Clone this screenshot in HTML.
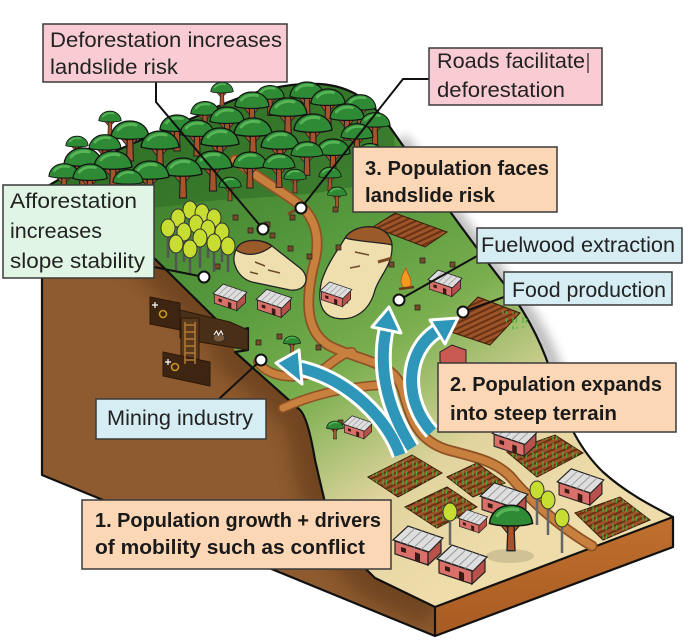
<!DOCTYPE html>
<html><head><meta charset="utf-8"><style>html,body{margin:0;padding:0;background:#fff}svg{display:block}</style></head>
<body>
<svg width="700" height="643" viewBox="0 0 700 643" xmlns="http://www.w3.org/2000/svg">
<defs>
<linearGradient id="gG" gradientUnits="userSpaceOnUse" x1="200" y1="120" x2="480" y2="560"><stop offset="0" stop-color="#3a7b2b"/><stop offset="0.35" stop-color="#5a9c3f"/><stop offset="0.55" stop-color="#7aae4e"/><stop offset="0.68" stop-color="#adc277"/><stop offset="0.8" stop-color="#e2d49e"/><stop offset="1" stop-color="#eedcab"/></linearGradient>
<linearGradient id="fr" x1="0" y1="0" x2="0" y2="1"><stop offset="0" stop-color="#c0702e"/><stop offset="1" stop-color="#a85b22"/></linearGradient>
<filter id="bl" x="-20%" y="-20%" width="140%" height="140%"><feGaussianBlur stdDeviation="9"/></filter>
<filter id="bl2" x="-20%" y="-20%" width="140%" height="140%"><feGaussianBlur stdDeviation="5"/></filter>
<clipPath id="lf"><path d="M42,190 L153,257 L230,333 L235,352 L300,410 C305,415 310,430 315,460 L322,490 C328,520 345,550 375,578 L435,607 L435,636 L42,475 Z"/></clipPath>
<pattern id="fs" width="6" height="5" patternUnits="userSpaceOnUse" patternTransform="rotate(-25)"><rect width="6" height="5" fill="#9c5428"/><rect width="6" height="2" fill="#6a3214"/></pattern>
<pattern id="sp" width="10" height="9" patternUnits="userSpaceOnUse"><path d="M3,8 L3,2 M6,8 L7,3" stroke="#4fae3d" stroke-width="1.2"/></pattern>
<symbol id="tr" viewBox="0 0 40 44" overflow="visible"><path d="M20,28 L11,17 M20,26 L29,16" stroke="#222" stroke-width="4" fill="none"/><path d="M20,28 L11,17 M20,26 L29,16" stroke="#a9532c" stroke-width="2.2" fill="none"/><path d="M17.5,16 L16.5,42 L23.5,42 L22.5,16 Z" fill="#a9532c" stroke="#222" stroke-width="1.2"/><path d="M1,18 C2,8 10,2 20,2 C30,2 38,8 39,18 C30,21 10,21 1,18 Z" fill="#2e8a34" stroke="#111" stroke-width="1.3"/><path d="M8,11 C12,6 19,4.5 26,6" stroke="#57b558" stroke-width="3" fill="none" stroke-linecap="round"/></symbol>
<symbol id="hs" viewBox="0 0 50 44" overflow="visible"><polygon points="2,18 35,29 35,42 2,31" fill="#d9716a" stroke="#222" stroke-width="1.2"/><polygon points="35,29 48,17 48,30 35,42" fill="#b9514b" stroke="#222" stroke-width="1.2"/><polygon points="22,29 27,31 27,40 22,38" fill="#3a1a14"/><polygon points="8,24 13,25.5 13,30 8,28.5" fill="#3a1a14"/><polygon points="0,17 15,3 50,15 36,29" fill="#dedede" stroke="#222" stroke-width="1.2"/><path d="M7,19.4 L22,5.4 M14,21.8 L29,7.8 M21,24.2 L36,10.2 M28,26.6 L43,12.6" stroke="#999" stroke-width="1"/></symbol>
</defs>
<rect width="700" height="643" fill="#fff"/>
<path d="M392,135 C420,175 470,245 505,290 C530,322 545,355 555,390" stroke="#000" stroke-width="16" fill="none" opacity="0.25" filter="url(#bl2)" transform="translate(8,4)"/>
<path d="M42,190 L153,257 L230,333 L235,352 L300,410 C305,415 310,430 315,460 L322,490 C328,520 345,550 375,578 L435,607 L435,636 L42,475 Z" fill="#8e5a2f"/>
<path d="M42,190 L153,257 L230,333 L235,352 L300,410 C305,415 310,430 315,460 L322,490 C328,520 345,550 375,578 L435,607" stroke="#5a3416" stroke-width="44" fill="none" opacity="0.55" filter="url(#bl)" clip-path="url(#lf)"/>
<polygon points="435,607 673,517 673,547 435,636" fill="url(#fr)"/>
<path d="M45,188 C80,165 140,140 200,115 C240,95 280,82 320,84 C350,86 372,100 392,130 C420,170 470,240 505,285 C530,318 545,350 555,385 C565,420 580,450 603,472 C625,492 650,505 673,517 L435,607 L375,578 C345,550 328,520 322,490 L315,460 C310,430 305,415 300,410 L235,352 L230,333 L153,257 Z" fill="url(#gG)"/>
<path d="M45,188 C80,165 140,140 200,115 C240,95 280,82 320,84 C350,86 372,100 392,130 C400,150 390,175 360,185 C300,200 240,195 180,205 C130,212 90,205 45,188 Z" fill="#2f6e26" opacity="0.6"/>
<path d="M45,188 C80,165 140,140 200,115 C240,95 280,82 320,84 C350,86 372,100 392,130 C420,170 470,240 505,285 C530,318 545,350 555,385 C565,420 580,450 603,472 C625,492 650,505 673,517" stroke="#111" stroke-width="2.2" fill="none"/>
<path d="M42,190 L153,257 L230,333 L248,328 L248,350 L235,352 L300,410 C305,415 310,430 315,460 L322,490 C328,520 345,550 375,578 L435,607 L673,517 L673,547 L435,636 L42,475 Z M435,607 L435,636" stroke="#111" stroke-width="2.2" fill="none" stroke-linejoin="round"/>
<g stroke="#2a180a" stroke-width="1"><polygon points="150,297 180,303 180,330 150,324" fill="#3e2511"/><polygon points="180,310 230,322 248,330 248,350 200,342 180,338" fill="#4a2f18"/><rect x="181" y="318" width="18" height="50" fill="#5a381c"/><polygon points="163,352 210,362 210,386 163,376" fill="#3e2511"/></g>
<path d="M185,325 H195 M185,332 H195 M185,339 H195 M185,346 H195 M185,353 H195 M185,360 H195 M185,322 V364 M195,322 V364" stroke="#b07a36" stroke-width="1.5"/>
<circle cx="163" cy="314" r="3.5" fill="none" stroke="#c8961a" stroke-width="1.6"/><circle cx="175" cy="367" r="3.5" fill="none" stroke="#c8961a" stroke-width="1.6"/>
<path d="M155,302 l0,6 M152,305 l6,0 M168,359 l0,6 M165,362 l6,0" stroke="#fff" stroke-width="1.2"/>
<ellipse cx="219" cy="338" rx="6" ry="4" fill="#7a5a3a" stroke="#222" stroke-width="0.8"/><path d="M214,335 l2.5,-4 l2,4 l2.5,-4 l2,4" stroke="#fff" stroke-width="1.1" fill="none"/>
<g fill="none" stroke-linecap="round" stroke="#8e5226" stroke-width="11"><path id="rd1" d="M235,160 C260,180 290,195 305,210 C318,225 320,245 313,268 C306,300 305,330 328,345 C355,360 392,360 402,388 C410,415 415,440 448,450 C478,458 500,462 515,482 C540,510 565,530 592,546"/><path d="M258,362 C268,378 300,382 325,368 C335,360 345,352 352,352 M283,408 C305,398 335,388 380,385" stroke-width="10"/></g>
<g fill="none" stroke-linecap="round" stroke="#c8803f" stroke-width="7.5"><path d="M235,160 C260,180 290,195 305,210 C318,225 320,245 313,268 C306,300 305,330 328,345 C355,360 392,360 402,388 C410,415 415,440 448,450 C478,458 500,462 515,482 C540,510 565,530 592,546"/><path d="M258,362 C268,378 300,382 325,368 C335,360 345,352 352,352 M283,408 C305,398 335,388 380,385" stroke-width="7"/></g>
<path d="M373,227 L395,213 L447,232 L425,247 Z M445,330 L478,297 L520,313 L490,345 Z M368,477 L412,455 L442,473 L398,497 Z M447,477 L477,463 L505,483 L473,497 Z M405,507 L447,487 L477,507 L437,528 Z M507,452 L555,435 L583,453 L537,477 Z M575,513 L620,497 L650,520 L603,540 Z" fill="url(#fs)" stroke="#3a1d0c" stroke-width="1"/>
<path d="M368,477 L412,455 L442,473 L398,497 Z M447,477 L477,463 L505,483 L473,497 Z M405,507 L447,487 L477,507 L437,528 Z M507,452 L555,435 L583,453 L537,477 Z M575,513 L620,497 L650,520 L603,540 Z M500,310 L520,313 L535,325 L510,330 Z" fill="url(#sp)"/>
<g stroke="#222" stroke-width="1.3"><path d="M236,250 C240,238 262,238 272,246 L300,268 C312,278 305,292 290,290 L252,282 C238,278 230,262 236,250 Z" fill="#f0dfae"/><path d="M236,250 C240,238 262,238 272,246 C262,254 248,258 236,250 Z" fill="#9a5a2a"/><path d="M345,238 C355,222 390,222 392,245 C393,265 380,275 375,290 C370,310 355,322 335,318 C318,314 318,295 322,280 C328,262 338,250 345,238 Z" fill="#f0dfae"/><path d="M345,238 C355,222 390,222 392,245 C380,242 360,242 345,238 Z" fill="#9a5a2a"/></g>
<path d="M255,262 l10,4 M268,270 l12,3 M250,272 l8,2 M355,252 l14,3 M350,268 l10,-2 M340,300 l8,3" stroke="#6a4a2a" stroke-width="1.5"/>
<path d="M270,233h5v5h-5z M288,246h5v5h-5z M333,207h5v5h-5z M233,215h5v5h-5z M265,222h5v5h-5z M336,245h5v5h-5z M256,340h5v5h-5z M277,334h5v5h-5z M316,345h5v5h-5z M353,202h5v5h-5z M415,305h5v5h-5z M450,262h5v5h-5z M389,262h5v5h-5z M338,420h5v5h-5z M363,428h5v5h-5z M215,264h5v5h-5z M290,215h5v5h-5z M420,258h5v5h-5z M248,228h5v5h-5z M307,254h5v5h-5z" fill="#7a4a25" stroke="#222" stroke-width="0.7"/>
<path d="M288,214 L305,205 M378,262 L392,258" stroke="#7a4a25" stroke-width="3"/>
<path d="M404,288 C398,282 402,275 406,268 C408,276 413,279 410,288 Z" fill="#f39b1e" stroke="#c0501a" stroke-width="0.8"/><path d="M399,289 L414,287" stroke="#6a3a1a" stroke-width="2.5"/>
<path d="M190,215 V238 M202,218 V242 M214,223 V246 M178,223 V246 M196,229 V252 M208,234 V258 M222,237 V262 M168,233 V258 M184,237 V262 M200,243 V268 M214,248 V272 M228,251 V272 M176,249 V272 M190,254 V275" stroke="#555" stroke-width="2.5"/>
<g fill="#c8dd32" stroke="#333" stroke-width="1"><ellipse cx="190" cy="210" rx="7" ry="9"/><ellipse cx="202" cy="213" rx="7" ry="9"/><ellipse cx="214" cy="218" rx="7" ry="9"/><ellipse cx="178" cy="218" rx="7" ry="9"/><ellipse cx="196" cy="224" rx="7" ry="9"/><ellipse cx="208" cy="229" rx="7" ry="9"/><ellipse cx="222" cy="232" rx="7" ry="9"/><ellipse cx="168" cy="228" rx="7" ry="9"/><ellipse cx="184" cy="232" rx="7" ry="9"/><ellipse cx="200" cy="238" rx="7" ry="9"/><ellipse cx="214" cy="243" rx="7" ry="9"/><ellipse cx="228" cy="246" rx="7" ry="9"/><ellipse cx="176" cy="244" rx="7" ry="9"/><ellipse cx="190" cy="249" rx="7" ry="9"/></g>
<g><use href="#tr" x="210" y="81" width="24" height="26"/><use href="#tr" x="289" y="80" width="36" height="40"/><use href="#tr" x="255" y="84" width="30" height="33"/><use href="#tr" x="310" y="87" width="36" height="40"/><use href="#tr" x="234" y="90" width="36" height="40"/><use href="#tr" x="343" y="93" width="34" height="37"/><use href="#tr" x="268" y="96" width="40" height="44"/><use href="#tr" x="190" y="100" width="30" height="33"/></g>
<g><use href="#tr" x="329" y="102" width="36" height="40"/><use href="#tr" x="98" y="110" width="24" height="26"/><use href="#tr" x="209" y="105" width="36" height="40"/><use href="#tr" x="359" y="111" width="32" height="35"/><use href="#tr" x="159" y="113" width="36" height="40"/><use href="#tr" x="293" y="112" width="40" height="44"/><use href="#tr" x="233" y="116" width="40" height="44"/><use href="#tr" x="179" y="118" width="36" height="40"/></g>
<g><use href="#tr" x="110" y="119" width="40" height="44"/><use href="#tr" x="340" y="122" width="34" height="37"/><use href="#tr" x="200" y="126" width="40" height="44"/><use href="#tr" x="260" y="129" width="40" height="44"/><use href="#tr" x="65" y="135" width="24" height="26"/><use href="#tr" x="140" y="129" width="40" height="44"/><use href="#tr" x="88" y="133" width="34" height="37"/><use href="#tr" x="315" y="137" width="36" height="40"/></g>
<g><use href="#tr" x="290" y="140" width="34" height="37"/><use href="#tr" x="356" y="142" width="28" height="31"/><use href="#tr" x="63" y="146" width="40" height="44"/><use href="#tr" x="93" y="149" width="40" height="44"/><use href="#tr" x="193" y="149" width="40" height="44"/><use href="#tr" x="232" y="150" width="36" height="40"/><use href="#tr" x="262" y="152" width="34" height="37"/><use href="#tr" x="163" y="156" width="40" height="44"/></g>
<g><use href="#tr" x="130" y="159" width="40" height="44"/><use href="#tr" x="48" y="162" width="32" height="35"/><use href="#tr" x="72" y="162" width="36" height="40"/><use href="#tr" x="112" y="168" width="32" height="35"/><use href="#tr" x="318" y="166" width="24" height="26"/><use href="#tr" x="283" y="168" width="24" height="26"/><use href="#tr" x="218" y="176" width="24" height="26"/><use href="#tr" x="327" y="186" width="20" height="22"/><use href="#tr" x="283" y="335" width="18" height="20"/><use href="#tr" x="326" y="420" width="18" height="20"/></g>
<g><use href="#hs" x="213" y="282" width="34" height="30"/><use href="#hs" x="256" y="287" width="36" height="32"/><use href="#hs" x="320" y="280" width="32" height="28"/><use href="#hs" x="428" y="268" width="34" height="30"/><use href="#hs" x="343" y="414" width="30" height="26"/></g>
<polygon points="440,352 452,345 466,350 466,364 452,368 440,362" fill="#c85a52" stroke="#222" stroke-width="1"/>
<g><use href="#hs" x="492" y="418" width="46" height="40"/><use href="#hs" x="480" y="480" width="48" height="42"/><use href="#hs" x="557" y="466" width="47" height="41"/><use href="#hs" x="458" y="508" width="30" height="26"/><use href="#hs" x="393" y="523" width="50" height="44"/><use href="#hs" x="437" y="542" width="50" height="44"/></g>
<ellipse cx="510" cy="556" rx="24" ry="7" fill="#000" opacity="0.12"/>
<use href="#tr" x="488" y="503" width="46" height="50"/>
<path d="M450,515 V545 M537,493 V525 M548,503 V535 M562,521 V553" stroke="#666" stroke-width="2.5"/>
<g fill="#c8dd32" stroke="#333" stroke-width="1"><ellipse cx="450" cy="512" rx="7" ry="9"/><ellipse cx="537" cy="490" rx="7" ry="9"/><ellipse cx="548" cy="500" rx="7" ry="9"/><ellipse cx="562" cy="518" rx="7" ry="9"/></g>
<path d="M400,455 C388,420 350,380 300,368 M412,448 C388,410 378,370 386,330 M432,432 C404,402 404,352 437,331" stroke="#fff" stroke-width="17" fill="none"/>
<path d="M400,455 C388,420 350,380 300,368 M412,448 C388,410 378,370 386,330 M432,432 C404,402 404,352 437,331" stroke="#2e96b8" stroke-width="11" fill="none"/>
<path d="M276,363 L299,350 L302,384 Z M389,307 L372,327 L401,333 Z M458,318 L430,320 L445,344 Z" fill="#2e96b8" stroke="#fff" stroke-width="3" stroke-linejoin="round"/>
<path d="M156,82 V102 L263,229 M429,79 H403 L301,208 M477,256 L399,300 M504,297 L463,312 M154,267 L204,277 M219,399 L261,360" stroke="#111" stroke-width="2" fill="none"/>
<g fill="#fff" stroke="#111" stroke-width="2"><circle cx="263" cy="229" r="5.5"/><circle cx="301" cy="208" r="5.5"/><circle cx="399" cy="300" r="5.5"/><circle cx="463" cy="312" r="5.5"/><circle cx="204" cy="277" r="5.5"/><circle cx="261" cy="360" r="5.5"/></g>
<g stroke="#3a3a3a" stroke-width="1.5">
<rect x="43" y="24" width="244" height="58" fill="#f8ccd2"/>
<rect x="429" y="48" width="173" height="57" fill="#f8ccd2"/>
<rect x="353" y="147" width="204" height="65" fill="#fcd7b6"/>
<rect x="477" y="228" width="205" height="35" fill="#d5edf3"/>
<rect x="504" y="272" width="168" height="33" fill="#d5edf3"/>
<rect x="3" y="185" width="151" height="93" fill="#e0f5e4"/>
<rect x="96" y="399" width="170" height="40" fill="#d5edf3"/>
<rect x="438" y="363" width="238" height="69" fill="#fcd7b6"/>
<rect x="82" y="500" width="309" height="69" fill="#fcd7b6"/>
</g>
<line x1="588" y1="53" x2="588" y2="73" stroke="#222" stroke-width="1.2"/>
<g font-family="Liberation Sans, sans-serif" font-size="21" fill="#222">
<text x="50" y="47" textLength="232" lengthAdjust="spacingAndGlyphs">Deforestation increases</text>
<text x="50" y="74" textLength="128" lengthAdjust="spacingAndGlyphs">landslide risk</text>
<text x="437" y="68" textLength="148" lengthAdjust="spacingAndGlyphs">Roads facilitate</text>
<text x="437" y="97" textLength="128" lengthAdjust="spacingAndGlyphs">deforestation</text>
<text x="481" y="252" textLength="194" lengthAdjust="spacingAndGlyphs">Fuelwood extraction</text>
<text x="512" y="297" textLength="154" lengthAdjust="spacingAndGlyphs">Food production</text>
<text x="10" y="208" textLength="127" lengthAdjust="spacingAndGlyphs">Afforestation</text>
<text x="10" y="238" textLength="92" lengthAdjust="spacingAndGlyphs">increases</text>
<text x="10" y="268" textLength="135" lengthAdjust="spacingAndGlyphs">slope stability</text>
<text x="107" y="425" textLength="146" lengthAdjust="spacingAndGlyphs">Mining industry</text>
</g>
<g font-family="Liberation Sans, sans-serif" font-size="20" font-weight="bold" fill="#1a1a1a">
<text x="365" y="175" textLength="184" lengthAdjust="spacingAndGlyphs">3. Population faces</text>
<text x="365" y="202" textLength="130" lengthAdjust="spacingAndGlyphs">landslide risk</text>
<text x="450" y="391" textLength="212" lengthAdjust="spacingAndGlyphs">2. Population expands</text>
<text x="450" y="420" textLength="167" lengthAdjust="spacingAndGlyphs">into steep terrain</text>
<text x="95" y="527" textLength="286" lengthAdjust="spacingAndGlyphs">1. Population growth + drivers</text>
<text x="95" y="554" textLength="270" lengthAdjust="spacingAndGlyphs">of mobility such as conflict</text>
</g>
</svg>
</body></html>
